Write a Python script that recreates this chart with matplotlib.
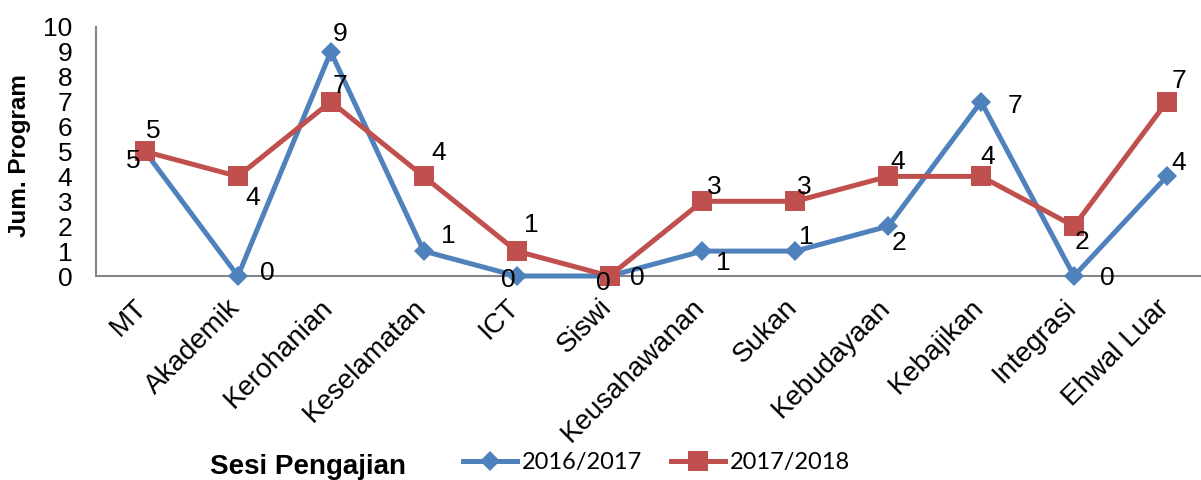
import matplotlib
matplotlib.use("Agg")
import matplotlib.pyplot as plt
from matplotlib.lines import Line2D
from matplotlib.transforms import ScaledTranslation

categories = ["MT", "Akademik", "Kerohanian", "Keselamatan", "ICT", "Siswi",
              "Keusahawanan", "Sukan", "Kebudayaan", "Kebajikan", "Integrasi", "Ehwal Luar"]
series_2016 = [5, 0, 9, 1, 0, 0, 1, 1, 2, 7, 0, 4]
series_2017 = [5, 4, 7, 4, 1, 0, 3, 3, 4, 4, 2, 7]
series_names = ["2016/2017", "2017/2018"]
y_ticks = list(range(0, 11))

# label offsets in pixels (dx right, dy down) - styling only
off_2016 = [(-12, 10), (29, -3), (9, -18), (25, -15), (-8, 4), (28, 2),
            (21, 12), (11, -14), (11, 17), (34, 4), (33, 2), (12, -13)]
off_2017 = [(8, -20), (15, 22), (9, -16), (15, -23), (15, -26), (-6, 7),
            (12, -14), (9, -14), (9, -14), (7, -19), (8, 16), (12, -21)]

BLUE = "#4F81BD"
RED = "#C0504D"
GRAY = "#868686"
FONT = "Liberation Sans"

W, H = 1201, 480
fig = plt.figure(figsize=(W / 100, H / 100), dpi=100)
ax = fig.add_axes([96 / W, 1 - 276 / H, (W - 96) / W, (276 - 27) / H])

x = list(range(len(categories)))
ax.plot(x, series_2016, color=BLUE, lw=3.6, marker="D", ms=10, mew=0,
        clip_on=False, zorder=3, label=series_names[0])
ax.plot(x, series_2017, color=RED, lw=3.6, marker="s", ms=14, mew=0,
        clip_on=False, zorder=4, label=series_names[1])

px2pt = 72 / 100
for xs, vals, offs in ((x, series_2016, off_2016), (x, series_2017, off_2017)):
    for xi, v, (dx, dy) in zip(xs, vals, offs):
        ax.annotate(str(v), (xi, v), xytext=(dx * px2pt, -dy * px2pt),
                    textcoords="offset points", ha="center", va="center",
                    fontsize=19, family=FONT, color="black", zorder=6,
                    annotation_clip=False)

ax.set_ylim(0, 10)
ax.set_xlim((96 - 145) / 92.9, (W - 145) / 92.9)
ax.set_yticks(y_ticks)
ax.set_yticklabels([str(t) for t in y_ticks], fontsize=19, family=FONT)
ax.tick_params(axis="y", length=0, pad=17)
ax.set_xticks(x)
ax.set_xticklabels(categories, rotation=45, ha="right", va="top",
                   rotation_mode="anchor", fontsize=20, family=FONT)
ax.tick_params(axis="x", length=0, pad=13.3)
shift = ScaledTranslation(-11 / 100, 0, fig.dpi_scale_trans)
for lab in ax.get_xticklabels():
    lab.set_transform(lab.get_transform() + shift)

for s in ("top", "right"):
    ax.spines[s].set_visible(False)
for s in ("left", "bottom"):
    ax.spines[s].set_color(GRAY)
    ax.spines[s].set_linewidth(1.5)
ax.patch.set_alpha(0)

fig.text(20 / W, 1 - 156 / H, "Jum. Program", rotation=90, ha="center",
         va="center", fontsize=17.5, fontweight="bold", family=FONT)
fig.text(308 / W, 1 - 467 / H, "Sesi Pengajian", ha="center", va="center",
         fontsize=20, fontweight="bold", family=FONT)

handles = [Line2D([], [], color=BLUE, lw=3.6, marker="D", ms=10, mew=0),
           Line2D([], [], color=RED, lw=3.6, marker="s", ms=14, mew=0)]
fig.legend(handles, series_names, loc="center left",
           bbox_to_anchor=(463 / W, 1 - 463 / H), frameon=False, borderpad=0,
           borderaxespad=0, handlelength=2.3, handletextpad=0.2,
           columnspacing=1.2, ncol=2, prop={"family": "Lato", "size": 17})

fig.savefig("out.png", dpi=100)
